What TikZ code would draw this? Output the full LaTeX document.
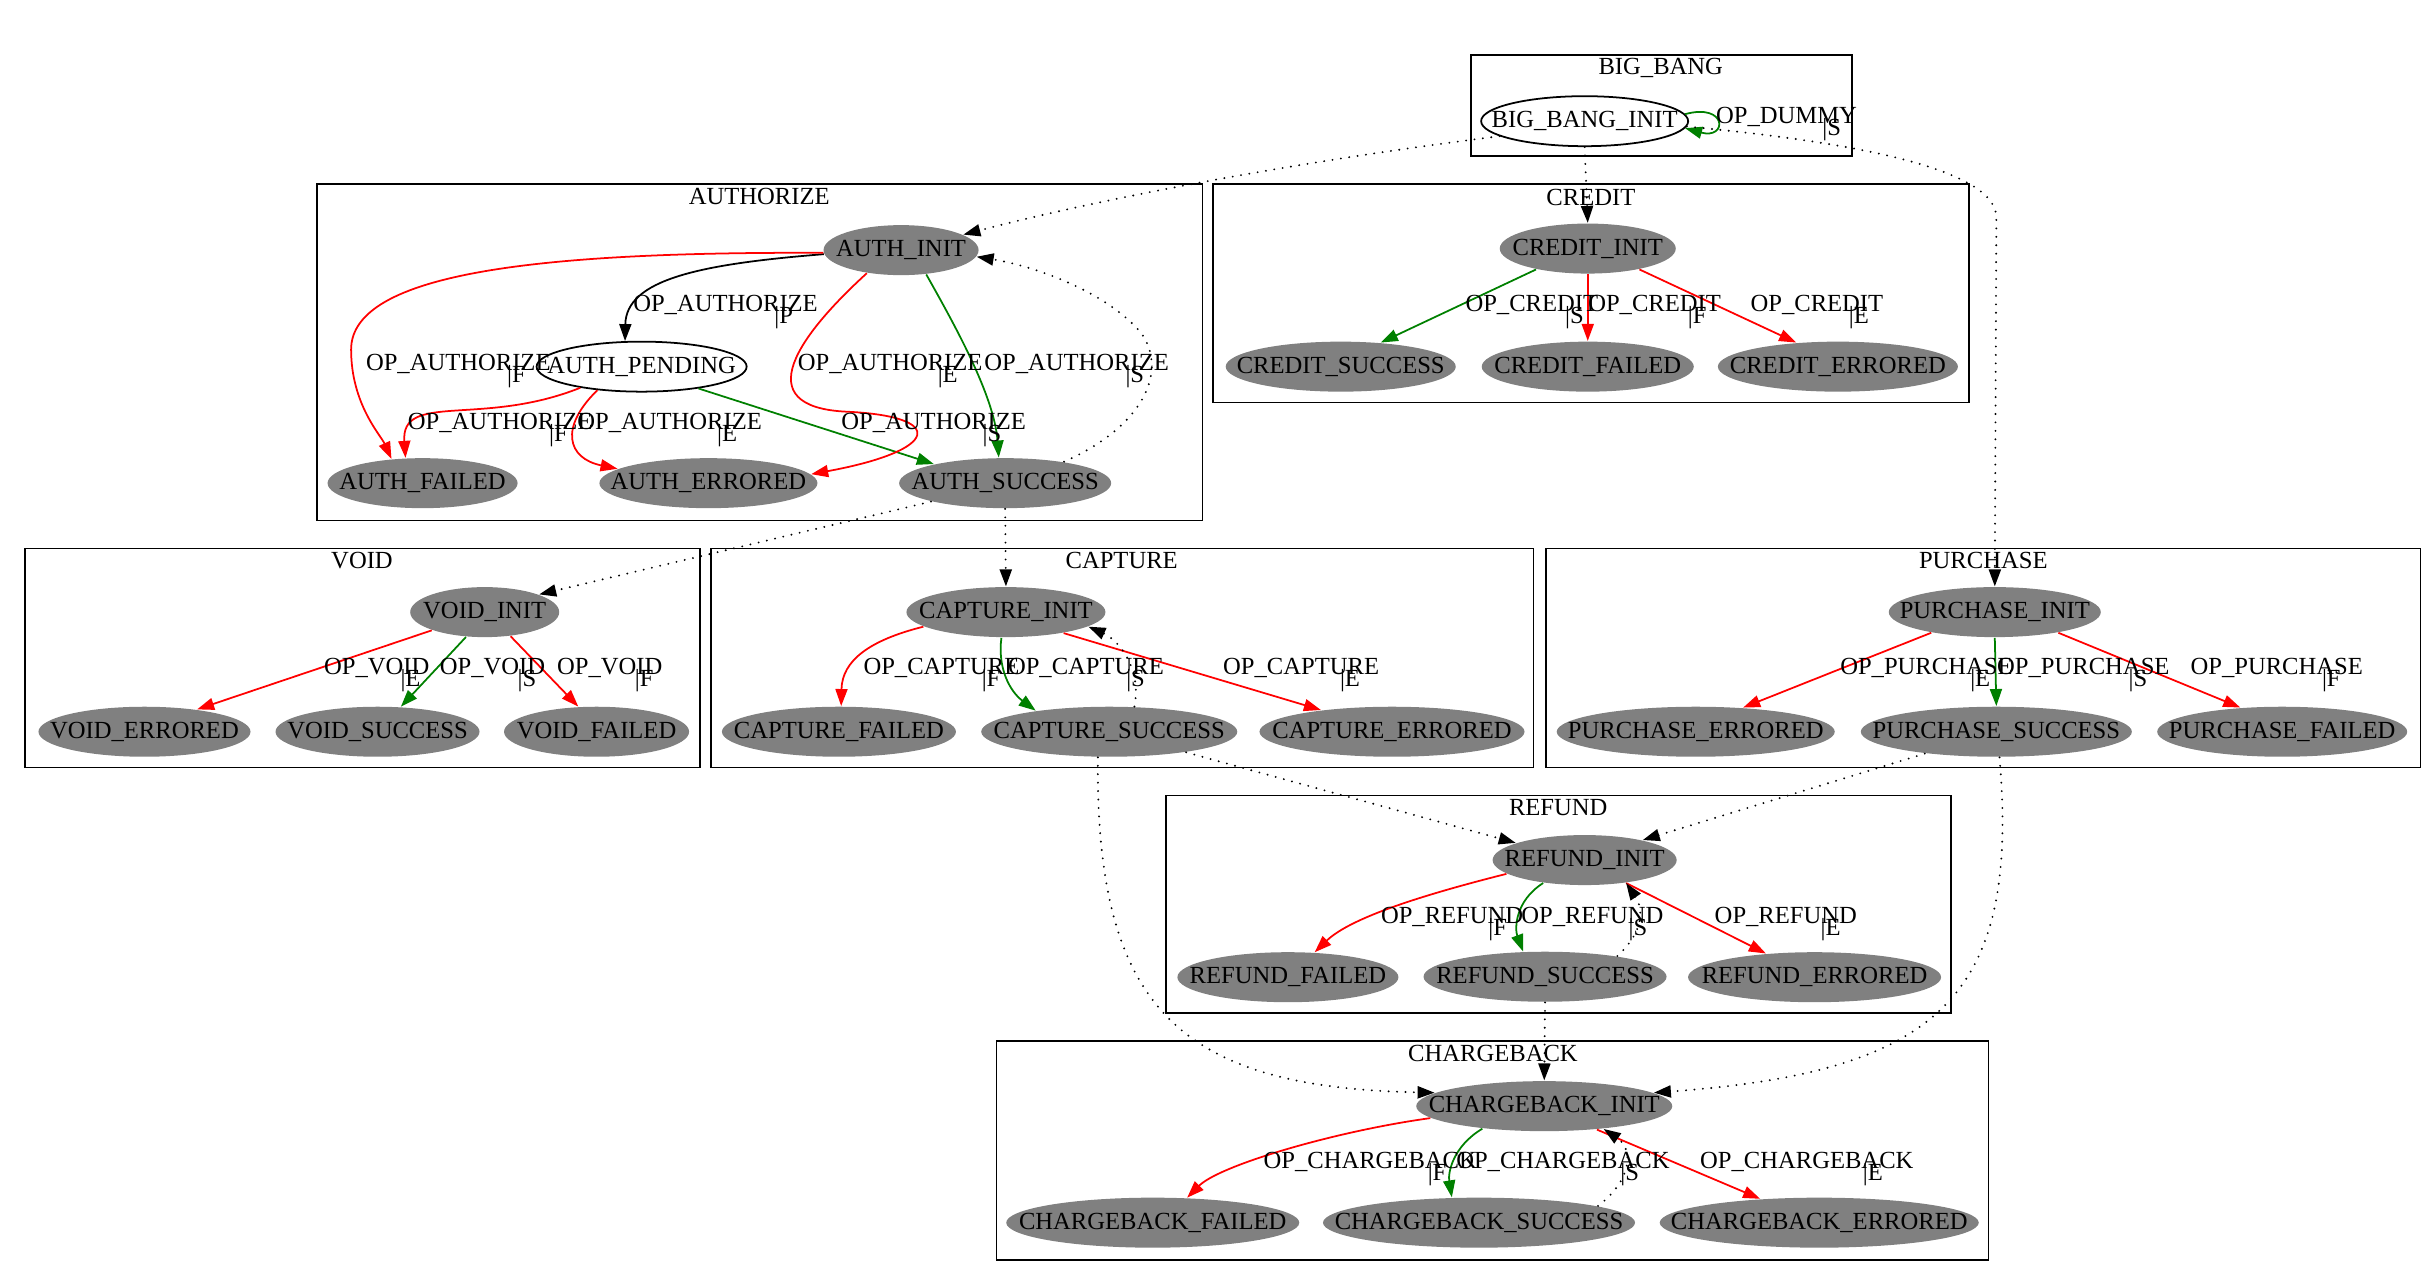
\documentclass[tikz,border=0pt]{standalone}
\usepackage{fontspec}
\setmainfont{Liberation Serif}
\usetikzlibrary{shapes.geometric, arrows.meta, calc}
\definecolor{dkgreen}{RGB}{0,128,0}
\newcommand{\nm}[1]{\makebox[0pt]{#1}}
\newcommand{\oplab}[4]{%
  \node[lab] (#1) at (#2) {#3};
  \node[lab, anchor=base east] (#1x) at ($(#1.base west)!0.8!(#1.base east)+(8,7.7)$) {\textbar #4};}

\begin{document}
\begin{tikzpicture}[x=0.015536cm, y=-0.015536cm,
  every node/.style={font=\fontsize{7}{8.4}\selectfont},
  st/.style={ellipse, fill=gray, inner sep=0pt, minimum height=0.5cm, minimum width=#1},
  stw/.style={ellipse, draw, line width=0.5pt, inner sep=0pt, minimum height=0.5cm, minimum width=#1},
  lab/.style={inner sep=0pt},
  clus/.style={draw, line width=0.5pt},
  tr/.style={line width=0.5pt, -{Triangle[length=0.17cm, width=0.12cm]}},
  ok/.style={tr, dkgreen},
  bad/.style={tr, red},
  dots/.style={tr, line width=0.6pt, line cap=round, dash pattern=on 0pt off 2.4pt}]
\useasboundingbox (0,0) rectangle (1568,819);

\draw[clus] (946.7,35.4) rectangle (1192,100.4);
\node (tbig) at (1069,44) {BIG\_BANG};
\draw[clus] (204,118.5) rectangle (774,335);
\node (tauth) at (488.7,126.6) {AUTHORIZE};
\draw[clus] (780.6,118.5) rectangle (1267.6,259);
\node (tcred) at (1024,127) {CREDIT};
\draw[clus] (16,353) rectangle (450.5,494);
\node (tvoid) at (233,361) {VOID};
\draw[clus] (457.5,353) rectangle (987,494);
\node (tcap) at (722,361) {CAPTURE};
\draw[clus] (995,353) rectangle (1558,494);
\node (tpur) at (1276.6,361) {PURCHASE};
\draw[clus] (750.5,512) rectangle (1256,652);
\node (tref) at (1003,520) {REFUND};
\draw[clus] (641.4,670) rectangle (1280,811);
\node (tcb) at (961,678) {CHARGEBACK};

\node[stw=2.07cm] (bb) at (1020,78) {\nm{BIG\_BANG\_INIT}};
\node[st=1.55cm] (ai) at (580,161) {\nm{AUTH\_INIT}};
\node[stw=2.10cm] (ap) at (413,236) {\nm{AUTH\_PENDING}};
\node[st=1.90cm] (af) at (272,311) {\nm{AUTH\_FAILED}};
\node[st=2.18cm] (ae) at (456,311) {\nm{AUTH\_ERRORED}};
\node[st=2.12cm] (as) at (647,311) {\nm{AUTH\_SUCCESS}};
\node[st=1.76cm] (ci) at (1022,160) {\nm{CREDIT\_INIT}};
\node[st=2.30cm] (csu) at (863,236) {\nm{CREDIT\_SUCCESS}};
\node[st=2.12cm] (cf) at (1022,236) {\nm{CREDIT\_FAILED}};
\node[st=2.40cm] (ce) at (1183,236) {\nm{CREDIT\_ERRORED}};
\node[st=1.49cm] (vi) at (312,394) {\nm{VOID\_INIT}};
\node[st=2.12cm] (ve) at (93,471) {\nm{VOID\_ERRORED}};
\node[st=2.04cm] (vs) at (243,471) {\nm{VOID\_SUCCESS}};
\node[st=1.85cm] (vf) at (384,471) {\nm{VOID\_FAILED}};
\node[st=1.99cm] (cpi) at (647.5,394) {\nm{CAPTURE\_INIT}};
\node[st=2.34cm] (cpf) at (540,471) {\nm{CAPTURE\_FAILED}};
\node[st=2.56cm] (cps) at (714,471) {\nm{CAPTURE\_SUCCESS}};
\node[st=2.65cm] (cpe) at (896,471) {\nm{CAPTURE\_ERRORED}};
\node[st=2.12cm] (pi) at (1284,394) {\nm{PURCHASE\_INIT}};
\node[st=2.78cm] (pe) at (1091.5,471) {\nm{PURCHASE\_ERRORED}};
\node[st=2.71cm] (ps) at (1285,471) {\nm{PURCHASE\_SUCCESS}};
\node[st=2.50cm] (pf) at (1469,471) {\nm{PURCHASE\_FAILED}};
\node[st=1.84cm] (ri) at (1020,553.6) {\nm{REFUND\_INIT}};
\node[st=2.21cm] (rf) at (829,629) {\nm{REFUND\_FAILED}};
\node[st=2.43cm] (rs) at (994.5,628.7) {\nm{REFUND\_SUCCESS}};
\node[st=2.53cm] (re) at (1168,629) {\nm{REFUND\_ERRORED}};
\node[st=2.56cm] (cbi) at (994,712) {\nm{CHARGEBACK\_INIT}};
\node[st=2.93cm] (cbf) at (742,787) {\nm{CHARGEBACK\_FAILED}};
\node[st=3.12cm] (cbs) at (952,787) {\nm{CHARGEBACK\_SUCCESS}};
\node[st=3.19cm] (cbe) at (1171,787) {\nm{CHARGEBACK\_ERRORED}};

\draw[ok] (bb.4) .. controls (1112,66) and (1112,90) .. (bb.-4);
\oplab{l0}{1150,75}{OP\_DUMMY}{S}
\draw[dots] (bb.190) .. controls (850,102) and (720,125) .. (ai.14);
\draw[dots] (bb.south) -- (ci.north);
\draw[dots] (bb.-3) .. controls (1200,92) and (1285,110) .. (1285,140) -- (pi.north);

\draw[tr] (ai.183) .. controls (450,170) and (403,180) .. (ap.123);
\draw[bad] (ai.182) .. controls (350,162) and (226,175) .. (226,225) .. controls (226,260) and (245,280) .. (af.142);
\draw[bad] (ap.199) .. controls (310,275) and (258,252) .. (af.124);
\draw[bad] (ap.208) .. controls (360,275) and (365,295) .. (ae.171);
\draw[ok] (ap.-21) -- (as.165);
\draw[bad] (ai.214) .. controls (515,215) and (480,262) .. (545,265) .. controls (610,268) and (605,290) .. (ae.5);
\draw[ok] (ai.-44) .. controls (615,210) and (640,255) .. (as.104);
\draw[dots] (as.20) .. controls (735,275) and (752,240) .. (735,215) .. controls (715,190) and (670,172) .. (ai.-5);
\draw[dots] (as.194) -- (vi.18);
\draw[dots] (as.south) -- (cpi.north);
\oplab{l1}{467,196}{OP\_AUTHORIZE}{P}
\oplab{l2}{295,234}{OP\_AUTHORIZE}{F}
\oplab{l3}{322,272}{OP\_AUTHORIZE}{F}
\oplab{l4}{431,272}{OP\_AUTHORIZE}{E}
\oplab{l5}{601,272}{OP\_AUTHORIZE}{S}
\oplab{l6}{573,234}{OP\_AUTHORIZE}{E}
\oplab{l7}{693,234}{OP\_AUTHORIZE}{S}

\draw[ok] (ci.202) -- (csu.31);
\draw[bad] (ci.south) -- (cf.north);
\draw[bad] (ci.-22) -- (ce.150);
\oplab{l8}{986,196}{OP\_CREDIT}{S}
\oplab{l9}{1065,196}{OP\_CREDIT}{F}
\oplab{l10}{1169.5,196}{OP\_CREDIT}{E}

\draw[bad] (vi.199) -- (ve.23);
\draw[ok] (vi.233) -- (vs.47);
\draw[bad] (vi.-43) -- (vf.126);
\oplab{l11}{242.5,430}{OP\_VOID}{E}
\oplab{l12}{317,430}{OP\_VOID}{S}
\oplab{l13}{392.5,430}{OP\_VOID}{F}

\draw[bad] (cpi.190) .. controls (560,412) and (542,425) .. (cpf.85);
\draw[ok] (cpi.260) .. controls (642,430) and (650,445) .. (cps.164);
\draw[bad] (cpi.-20) -- (cpe.163);
\draw[dots] (cps.45) .. controls (735,430) and (720,412) .. (cpi.-10);
\draw[dots] (cps.-15) -- (ri.166);
\draw[dots] (cps.246) .. controls (705,650) and (760,700) .. (cbi.173);
\oplab{l14}{606,430}{OP\_CAPTURE}{F}
\oplab{l15}{699,430}{OP\_CAPTURE}{S}
\oplab{l16}{837.5,430}{OP\_CAPTURE}{E}

\draw[bad] (pi.198) -- (pe.27);
\draw[ok] (pi.south) -- (ps.north);
\draw[bad] (pi.-18) -- (pf.150);
\draw[dots] (ps.197) -- (ri.19);
\draw[dots] (ps.-83) .. controls (1300,640) and (1250,690) .. (cbi.7);
\oplab{l17}{1240,430}{OP\_PURCHASE}{E}
\oplab{l18}{1341,430}{OP\_PURCHASE}{S}
\oplab{l19}{1465.5,430}{OP\_PURCHASE}{F}

\draw[bad] (ri.190) .. controls (920,575) and (870,590) .. (rf.43);
\draw[ok] (ri.209) .. controls (975,580) and (975,598) .. (rs.131);
\draw[bad] (ri.-29) -- (re.154);
\draw[dots] (rs.16) .. controls (1058,600) and (1058,585) .. (ri.-29);
\draw[dots] (rs.south) -- (cbi.north);
\oplab{l20}{934.7,590}{OP\_REFUND}{F}
\oplab{l21}{1025,590}{OP\_REFUND}{S}
\oplab{l22}{1149.5,590}{OP\_REFUND}{E}

\draw[bad] (cbi.186) .. controls (860,728) and (785,750) .. (cbf.36);
\draw[ok] (cbi.200) .. controls (935,738) and (932,755) .. (cbs.137);
\draw[bad] (cbi.-24) -- (cbe.158);
\draw[dots] (cbs.8) .. controls (1050,760) and (1052,740) .. (cbi.-21);
\oplab{l23}{882,747.7}{OP\_CHARGEBACK}{F}
\oplab{l24}{1006,747.7}{OP\_CHARGEBACK}{S}
\oplab{l25}{1163,747.7}{OP\_CHARGEBACK}{E}
\end{tikzpicture}
\end{document}
